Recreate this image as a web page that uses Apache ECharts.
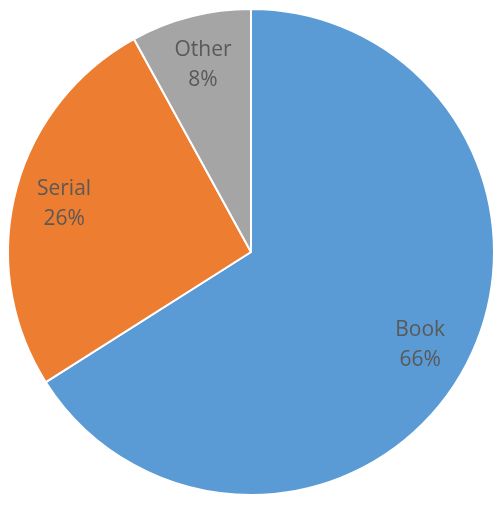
<!DOCTYPE html>
<html><head><meta charset="utf-8">
<script src="https://cdn.jsdelivr.net/npm/echarts@6/dist/echarts.min.js"></script>
<style>html,body{margin:0;padding:0;background:#fff}#c{width:501px;height:515px}</style>
</head><body><div id="c"></div>
<script>
const categories = ['Book', 'Serial', 'Other'];
const values = [66, 26, 8];
const colors = ['#5B9BD5', '#ED7D31', '#A5A5A5'];
const data = categories.map((n, i) => ({ name: n, value: values[i], itemStyle: { color: colors[i] } }));
const chart = echarts.init(document.getElementById('c'));
chart.setOption({
  animation: false,
  series: [
    { type: 'pie', center: [251, 252], radius: [0, 243], startAngle: 90, clockwise: true,
      data: data, label: { show: false }, labelLine: { show: false },
      itemStyle: { borderColor: '#fff', borderWidth: 2 }, emphasis: { disabled: true } },
    { type: 'pie', center: [251, 252], radius: [137, 243], startAngle: 90, clockwise: true,
      data: categories.map((n, i) => ({ name: n, value: values[i] })), silent: true,
      itemStyle: { color: 'rgba(0,0,0,0)' },
      label: { show: true, position: 'inside', formatter: p => p.name + '\n' + Math.round(p.percent) + '%',
        color: '#595959', fontSize: 21, lineHeight: 30, fontFamily: 'Open Sans' },
      labelLine: { show: false } }
  ]
});
</script></body></html>
